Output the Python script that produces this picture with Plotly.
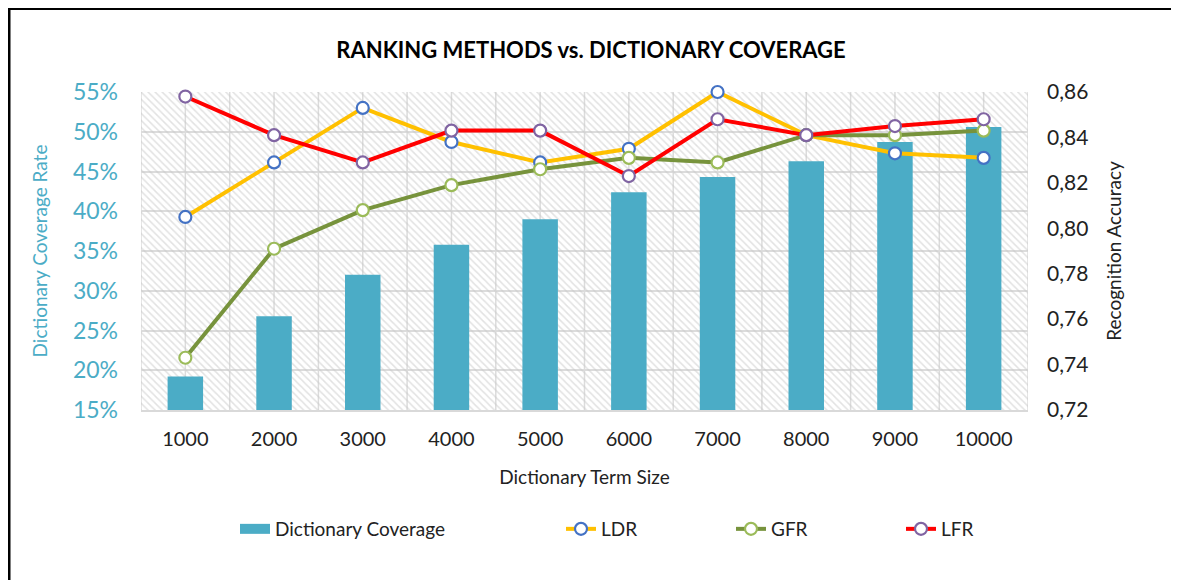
import plotly.graph_objects as go

categories = ["1000", "2000", "3000", "4000", "5000", "6000", "7000", "8000", "9000", "10000"]
coverage = [0.192, 0.268, 0.320, 0.358, 0.390, 0.424, 0.443, 0.463, 0.487, 0.506]
ldr = [0.805, 0.829, 0.853, 0.838, 0.829, 0.835, 0.860, 0.841, 0.833, 0.831]
gfr = [0.743, 0.791, 0.808, 0.819, 0.826, 0.831, 0.829, 0.841, 0.841, 0.843]
lfr = [0.858, 0.841, 0.829, 0.843, 0.843, 0.823, 0.848, 0.841, 0.845, 0.848]

left_range = [0.15, 0.55]
right_range = [0.72, 0.86]

FONT = "Lato, 'Open Sans', sans-serif"
TEAL = "#4BACC6"

# page offset (browser body margin)
OFF = 8
W, H = 1179, 580
# target plot-area geometry in screenshot pixels
PL, PR, PT, PB = 141, 1028, 92, 410
ML, MT = PL - OFF, PT - OFF
PW, PH = PR - PL, PB - PT
MR = W - ML - PW
MB = H - MT - PH

def px_x(p):
    return (p - PL) / PW

def px_y(p):
    return (PB - p) / PH

fig = go.Figure()

# hatched plot-area background
fig.add_trace(go.Bar(
    x=categories, y=[left_range[1] - left_range[0]] * len(categories), base=left_range[0],
    width=1, marker=dict(color="rgba(0,0,0,0)", line=dict(width=0),
                         pattern=dict(shape="\\", fgcolor="#c6c6c6", bgcolor="rgba(0,0,0,0)",
                                      size=5, solidity=0.3)),
    hoverinfo="skip", showlegend=False, yaxis="y"))

fig.add_trace(go.Bar(
    x=categories, y=coverage, name="Dictionary Coverage", width=0.4,
    marker=dict(color=TEAL, line=dict(width=0)), yaxis="y",
    legendgroup="cov", showlegend=False))

# legend swatch for the bar series (wide rectangle like the original)
fig.add_trace(go.Scatter(
    x=[None], y=[None], mode="lines", name="Dictionary Coverage",
    line=dict(color=TEAL, width=14), legendgroup="cov", legend="legend", yaxis="y"))

def line_trace(name, vals, lc, mc):
    return go.Scatter(
        x=categories, y=vals, name=name, mode="lines+markers", yaxis="y2",
        line=dict(color=lc, width=4), cliponaxis=False,
        marker=dict(size=12, color="white", line=dict(color=mc, width=2.2)),
        legend="legend2")

fig.add_trace(line_trace("LDR", ldr, "#FFC000", "#4472C4"))
fig.add_trace(line_trace("GFR", gfr, "#77933C", "#9BBB59"))
fig.add_trace(line_trace("LFR", lfr, "#FF0000", "#8064A2"))

shapes = [
    dict(type="line", xref="paper", yref="paper", x0=px_x(9), x1=px_x(9), y0=px_y(8), y1=px_y(600),
         line=dict(color="black", width=3)),
    dict(type="line", xref="paper", yref="paper", x0=px_x(9), x1=px_x(1178), y0=px_y(8.5), y1=px_y(8.5),
         line=dict(color="black", width=3)),
    dict(type="line", xref="paper", yref="paper", x0=px_x(1177.5), x1=px_x(1177.5), y0=px_y(8), y1=px_y(600),
         line=dict(color="#777777", width=1.5)),
]

# vertical gridlines at category centres and boundaries
for i in range(len(categories) * 2 + 1):
    xv = -0.5 + i * 0.5
    shapes.append(dict(type="line", xref="x", yref="paper", x0=xv, x1=xv, y0=0, y1=1,
                       layer="below", line=dict(color="#dcdcdc", width=1.5)))

fig.update_layout(
    width=W, height=H,
    margin=dict(l=ML, r=MR, t=MT, b=MB),
    paper_bgcolor="white", plot_bgcolor="white",
    separators=",.",
    barmode="overlay",
    font=dict(family=FONT, size=18, color="#222222"),
    title=dict(text="<b>RANKING METHODS vs. DICTIONARY COVERAGE</b>",
               x=(591 - OFF) / W, xref="container", xanchor="center",
               y=1 - (50 - OFF) / H, yref="container", yanchor="middle",
               font=dict(family=FONT, size=22, color="black")),
    xaxis=dict(type="category", range=[-0.5, len(categories) - 0.5],
               showgrid=False, showline=True, linecolor="#d9d9d9", linewidth=1.5,
               ticks="", ticklabelstandoff=10, tickfont=dict(size=20, color="#222222"),
               title=dict(text="Dictionary Term Size", font=dict(size=19, color="#222222"), standoff=22)),
    yaxis=dict(range=left_range, dtick=0.05, tickformat=".0%",
               showgrid=True, gridcolor="#dcdcdc", gridwidth=1.5,
               zeroline=False, showline=False, ticks="", ticklabelstandoff=22,
               tickfont=dict(size=23, color=TEAL),
               title=dict(text="Dictionary Coverage Rate", font=dict(size=19, color=TEAL), standoff=20)),
    yaxis2=dict(range=right_range, dtick=0.02, tickformat=".2f", overlaying="y", side="right",
                showgrid=False, zeroline=False, showline=False, ticks="", ticklabelstandoff=18,
                tickfont=dict(size=21, color="#222222"),
                title=dict(text="Recognition Accuracy", font=dict(size=19, color="#222222"), standoff=20)),
    legend=dict(orientation="h", x=px_x(235), xanchor="left", y=px_y(529), yanchor="middle",
                font=dict(size=19, color="#222222"), bgcolor="rgba(0,0,0,0)"),
    legend2=dict(orientation="h", x=px_x(561), xanchor="left", y=px_y(529), yanchor="middle",
                 font=dict(size=19, color="#222222"), bgcolor="rgba(0,0,0,0)",
                 entrywidth=125, tracegroupgap=0),
    shapes=shapes,
)

fig.write_html("out.html")
